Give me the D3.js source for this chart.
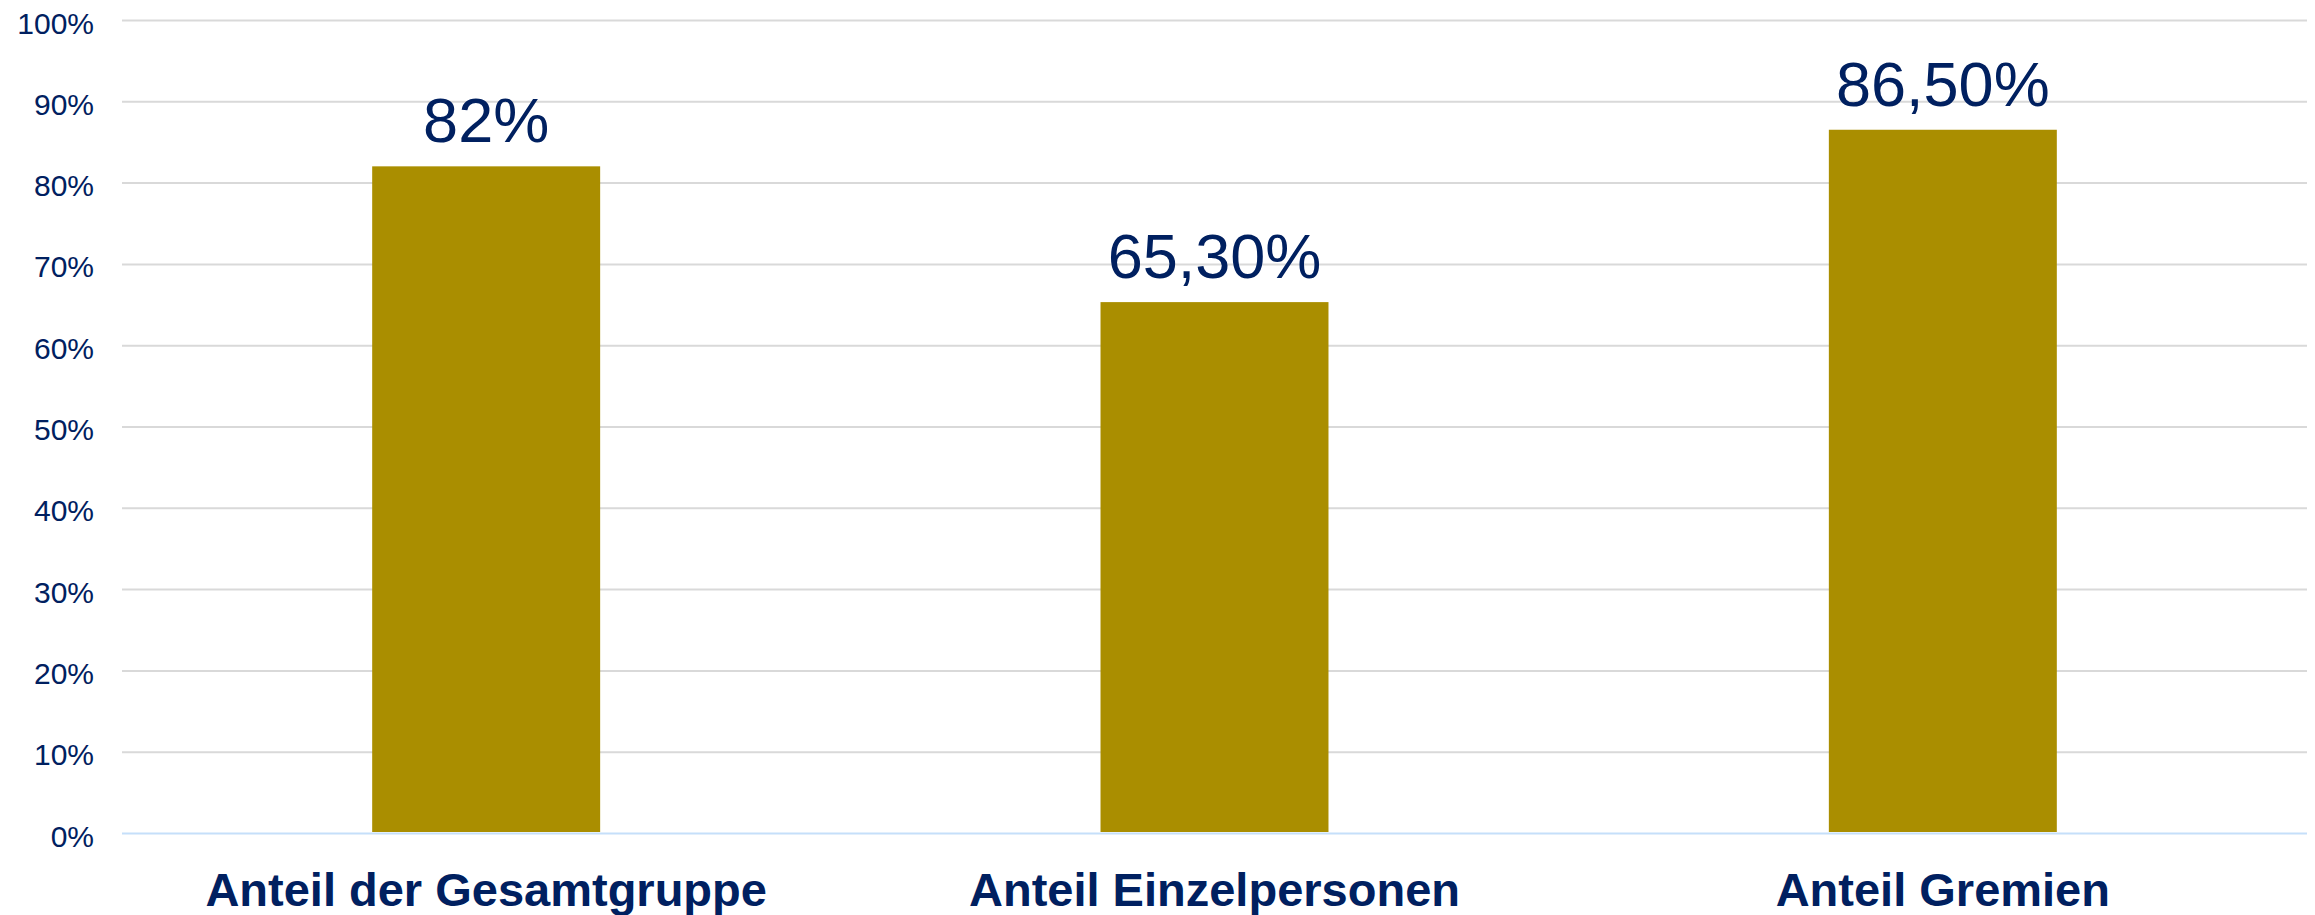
<!DOCTYPE html>
<html>
<head>
<meta charset="utf-8">
<script src="https://cdn.jsdelivr.net/npm/d3@7"></script>
<style>
  body { margin: 0; background: #fff; }
  text { font-family: "Liberation Sans", Arial, sans-serif; fill: #002060; }
</style>
</head>
<body>
<div id="chart"></div>
<script>
const width = 2315;
const height = 915;

// data
const categories = ['Anteil der Gesamtgruppe', 'Anteil Einzelpersonen', 'Anteil Gremien'];
const values = [82, 65.3, 86.5];
const valueLabels = ['82%', '65,30%', '86,50%'];
const yTicks = [0, 10, 20, 30, 40, 50, 60, 70, 80, 90, 100];

const margin = { left: 122, right: 8, top: 20, bottom: 82 };

const svg = d3.select('#chart')
    .append('svg')
    .attr('width', width)
    .attr('height', height)

const x = d3.scaleBand()
    .domain(categories)
    .range([margin.left, width - margin.right])
    .paddingInner(0.687)
    .paddingOuter(0.3435)

const y = d3.scaleLinear()
    .domain([0, 100])
    .range([height - margin.bottom, margin.top])

//Gridlines

const yAxis = svg.append('g')
    .attr('transform', 'translate(' + margin.left + ',0)')
    .call(d3.axisLeft(y)
        .tickValues(yTicks)
        .tickSize(-(width - margin.left - margin.right))
        .tickPadding(28)
        .tickFormat((d) => d + '%'))

yAxis.select('.domain').remove()

yAxis.selectAll('.tick line')
    .attr('stroke', (d) => d === 0 ? '#c5dffa' : '#d9d9d9')
    .attr('stroke-width', 2)

yAxis.selectAll('.tick text')
    .attr('font-size', 30)
    .attr('dy', 13)
    .style('fill', '#002060')

//Bars

svg.selectAll('.bar')
    .data(values)
    .enter()
    .append('rect')
    .attr('class', 'bar')
    .attr('x', (d, i) => x(categories[i]))
    .attr('y', (d) => y(d))
    .attr('width', x.bandwidth())
    .attr('height', (d) => y(0) - y(d) - 1)
    .attr('fill', '#aa8e00')

//Value labels

svg.selectAll('.value')
    .data(values)
    .enter()
    .append('text')
    .attr('class', 'value')
    .attr('x', (d, i) => x(categories[i]) + x.bandwidth() / 2)
    .attr('y', (d) => y(d) - 24)
    .attr('text-anchor', 'middle')
    .attr('font-size', 63)
    .text((d, i) => valueLabels[i])

//Category labels

svg.selectAll('.cat')
    .data(categories)
    .enter()
    .append('text')
    .attr('class', 'cat')
    .attr('x', (d) => x(d) + x.bandwidth() / 2)
    .attr('y', 906)
    .attr('text-anchor', 'middle')
    .attr('font-size', 47)
    .attr('font-weight', 'bold')
    .text((d) => d)
</script>
</body>
</html>
